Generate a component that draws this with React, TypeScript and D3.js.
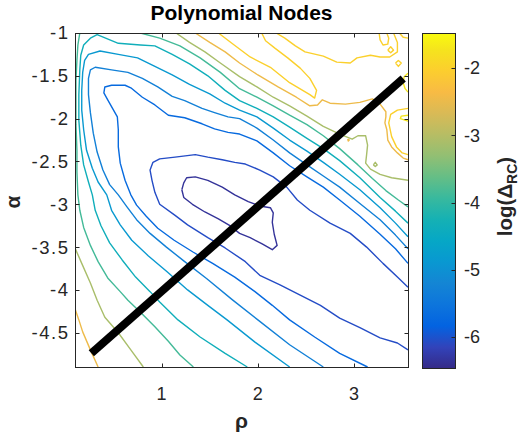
import { useEffect, useRef } from "react";
import * as d3 from "d3";

type Pt = [number, number];

const RHO_RANGE: Pt = [0.1, 3.56];
const ALPHA_RANGE: Pt = [-4.9, -1];
const LOG_RANGE: Pt = [-6.46, -1.48];

const RHO_TICKS = [1, 2, 3];
const ALPHA_TICKS = [-4.5, -4, -3.5, -3, -2.5, -2, -1.5, -1];
const LOG_TICKS = [-6, -5, -4, -3, -2];

// parula colormap (style only)
const PARULA = [
  "#352a87", "#3243ba", "#0363e1", "#0d75dc", "#1485d4", "#0998d1",
  "#06a7c6", "#15b1b4", "#38b99e", "#65be86", "#92bf73", "#b7bd64",
  "#d9ba56", "#f8bb44", "#fcce2e", "#f5e41d", "#f9fb0e",
];
const PARULA_POS = [0, 4, 8, 12, 16, 20, 24, 28, 32, 36, 40, 44, 48, 52, 56, 60, 63].map((i) => i / 63);

// contour levels, log(Delta_RC)
const LEVELS = [-6.35, -6.05, -5.7, -5.3, -4.85, -4.35, -3.85, -3.1, -2.45, -2.0, -1.7];

// contour lines, [rho, alpha]
const C1: Pt[][] = [
  [[1.21,-2.83],[1.23,-2.75],[1.26,-2.69],[1.35,-2.68],[1.48,-2.72],[1.63,-2.80],[1.76,-2.89],[1.90,-2.97],[2.02,-3.02],[2.13,-3.04],[2.16,-3.10],[2.15,-3.21],[2.17,-3.35],[2.20,-3.48],[2.15,-3.53],[2.04,-3.46],[1.92,-3.39],[1.81,-3.34],[1.71,-3.25],[1.59,-3.17],[1.45,-3.09],[1.32,-3.00],[1.23,-2.92],[1.21,-2.83]],
];
const C2: Pt[][] = [
  [[3.56,-3.97],[3.45,-3.85],[3.30,-3.69],[3.13,-3.50],[2.96,-3.34],[2.75,-3.22],[2.54,-3.07],[2.41,-2.95],[2.30,-2.80],[2.16,-2.68],[2.02,-2.60],[1.87,-2.53],[1.76,-2.51],[1.63,-2.48],[1.48,-2.45],[1.35,-2.42],[1.14,-2.45],[0.98,-2.47],[0.91,-2.51],[0.88,-2.60],[0.90,-2.72],[0.93,-2.86],[0.98,-3.00],[1.14,-3.13],[1.27,-3.24],[1.48,-3.39],[1.66,-3.51],[1.87,-3.67],[2.02,-3.83],[2.23,-3.94],[2.44,-4.06],[2.65,-4.18],[2.85,-4.33],[3.06,-4.44],[3.27,-4.56],[3.45,-4.62],[3.56,-4.70]],
];
const C3: Pt[][] = [
  [[3.14,-4.9],[2.85,-4.74],[2.59,-4.55],[2.33,-4.35],[2.15,-4.18],[1.97,-4.02],[1.76,-3.85],[1.53,-3.69],[1.33,-3.56],[1.13,-3.42],[0.96,-3.28],[0.84,-3.14],[0.74,-3.01],[0.68,-2.89],[0.62,-2.72],[0.57,-2.52],[0.55,-2.33],[0.55,-2.13],[0.54,-1.98],[0.44,-1.78],[0.40,-1.70],[0.41,-1.63],[0.48,-1.61],[0.62,-1.61],[0.68,-1.64],[0.80,-1.75],[0.93,-1.84],[1.07,-1.96],[1.24,-1.99],[1.42,-2.06],[1.55,-2.12],[1.69,-2.16],[1.81,-2.18],[1.99,-2.26],[2.16,-2.40],[2.33,-2.55],[2.51,-2.68],[2.68,-2.80],[2.85,-2.95],[3.06,-3.14],[3.27,-3.35],[3.43,-3.52],[3.56,-3.69]],
];
const C4: Pt[][] = [
  [[2.68,-4.9],[2.33,-4.64],[2.00,-4.35],[1.73,-4.11],[1.47,-3.87],[1.24,-3.67],[1.05,-3.50],[0.88,-3.34],[0.74,-3.18],[0.64,-3.03],[0.55,-2.89],[0.46,-2.77],[0.39,-2.60],[0.33,-2.39],[0.29,-2.17],[0.26,-1.93],[0.24,-1.72],[0.24,-1.53],[0.26,-1.43],[0.31,-1.40],[0.48,-1.43],[0.65,-1.46],[0.80,-1.53],[0.96,-1.63],[1.11,-1.74],[1.24,-1.79],[1.42,-1.88],[1.55,-1.93],[1.69,-1.98],[1.81,-2.00],[1.99,-2.11],[2.16,-2.25],[2.33,-2.40],[2.51,-2.54],[2.68,-2.67],[2.85,-2.80],[3.06,-2.99],[3.27,-3.18],[3.43,-3.36],[3.56,-3.52]],
];
const C5: Pt[][] = [
  [[2.33,-4.9],[1.97,-4.61],[1.68,-4.35],[1.48,-4.18],[1.27,-4.00],[1.06,-3.79],[0.86,-3.60],[0.69,-3.42],[0.57,-3.24],[0.48,-3.07],[0.43,-2.89],[0.34,-2.74],[0.28,-2.58],[0.22,-2.37],[0.19,-2.13],[0.17,-1.90],[0.17,-1.67],[0.18,-1.46],[0.20,-1.32],[0.24,-1.25],[0.36,-1.21],[0.55,-1.25],[0.75,-1.29],[0.93,-1.39],[1.11,-1.49],[1.29,-1.60],[1.50,-1.71],[1.66,-1.82],[1.81,-1.90],[1.99,-1.98],[2.16,-2.11],[2.33,-2.25],[2.51,-2.38],[2.68,-2.51],[2.85,-2.65],[3.06,-2.83],[3.27,-3.04],[3.43,-3.22],[3.56,-3.38]],
];
const C6: Pt[][] = [
  [[1.89,-4.9],[1.66,-4.74],[1.40,-4.55],[1.17,-4.35],[0.98,-4.14],[0.88,-4.02],[0.73,-3.85],[0.59,-3.65],[0.46,-3.45],[0.37,-3.25],[0.31,-3.07],[0.28,-2.89],[0.24,-2.74],[0.19,-2.54],[0.16,-2.31],[0.14,-2.02],[0.14,-1.72],[0.15,-1.43],[0.16,-1.26],[0.19,-1.14],[0.26,-1.06],[0.33,-1.02],[0.55,-1.12],[0.78,-1.14],[0.93,-1.15],[1.11,-1.25],[1.29,-1.36],[1.48,-1.50],[1.66,-1.67],[1.81,-1.79],[1.99,-1.88],[2.16,-1.98],[2.33,-2.10],[2.51,-2.23],[2.68,-2.35],[2.85,-2.49],[3.06,-2.69],[3.27,-2.92],[3.43,-3.08],[3.56,-3.22]],
];
const C7: Pt[][] = [
  [[0.15,-1.00],[0.13,-1.14],[0.12,-1.32],[0.11,-1.55],[0.11,-1.78],[0.11,-2.07],[0.12,-2.37],[0.12,-2.62],[0.13,-2.89],[0.15,-3.07],[0.19,-3.27],[0.26,-3.48],[0.34,-3.67],[0.44,-3.86],[0.57,-4.02],[0.65,-4.12],[0.78,-4.26],[0.93,-4.43],[1.07,-4.60],[1.19,-4.76],[1.33,-4.9]],
  [[0.78,-1.00],[0.98,-1.06],[1.19,-1.15],[1.40,-1.29],[1.61,-1.46],[1.81,-1.65],[1.99,-1.75],[2.16,-1.85],[2.33,-1.96],[2.51,-2.07],[2.68,-2.20],[2.85,-2.35],[3.04,-2.54],[3.19,-2.70],[3.33,-2.84],[3.46,-2.95],[3.56,-3.03]],
];
const C8: Pt[][] = [
  [[0.10,-3.51],[0.17,-3.69],[0.26,-3.92],[0.33,-4.12],[0.41,-4.32],[0.55,-4.50],[0.68,-4.70],[0.81,-4.9]],
  [[1.15,-1.00],[1.29,-1.11],[1.45,-1.22],[1.61,-1.35],[1.81,-1.51],[1.99,-1.63],[2.16,-1.75],[2.33,-1.85],[2.51,-1.97],[2.68,-2.09],[2.85,-2.18],[2.98,-2.24],[3.04,-2.20],[3.12,-2.20],[3.14,-2.31],[3.13,-2.42],[3.12,-2.52],[3.17,-2.59],[3.27,-2.65],[3.39,-2.69],[3.56,-2.72]],
  [[3.20,-2.54],[3.22,-2.51],[3.24,-2.54],[3.22,-2.56],[3.20,-2.54]],
];
const C9: Pt[][] = [
  [[0.10,-4.22],[0.14,-4.35],[0.18,-4.49],[0.26,-4.70],[0.34,-4.9]],
  [[1.35,-1.00],[1.50,-1.11],[1.66,-1.22],[1.81,-1.35],[2.00,-1.49],[2.21,-1.63],[2.40,-1.75],[2.54,-1.85],[2.62,-1.84],[2.67,-1.78],[2.75,-1.82],[2.91,-1.83],[3.06,-1.81],[3.19,-1.77],[3.27,-1.83],[3.33,-1.92],[3.33,-1.98],[3.32,-2.05],[3.34,-2.13],[3.35,-2.25],[3.39,-2.33],[3.45,-2.40],[3.51,-2.46],[3.56,-2.48]],
  [[2.93,-2.25],[2.94,-2.24],[2.95,-2.25],[2.94,-2.26],[2.93,-2.25]],
];
const C10: Pt[][] = [
  [[1.59,-1.00],[1.73,-1.12],[1.92,-1.28],[2.13,-1.40],[2.33,-1.58],[2.54,-1.72],[2.59,-1.76],[2.61,-1.67],[2.54,-1.53],[2.44,-1.41],[2.31,-1.29],[2.18,-1.18],[2.08,-1.09],[2.04,-1.00]],
  [[2.19,-1.00],[2.28,-1.06],[2.39,-1.15],[2.49,-1.22],[2.68,-1.27],[2.82,-1.34],[2.96,-1.35],[3.03,-1.29],[3.17,-1.26],[3.27,-1.28],[3.37,-1.28],[3.45,-1.22],[3.45,-1.11],[3.41,-1.00]],
  [[3.56,-1.88],[3.45,-1.90],[3.38,-1.95],[3.36,-2.05],[3.39,-2.21],[3.44,-2.33],[3.50,-2.40],[3.56,-2.42]],
  [[3.26,-1.00],[3.27,-1.08],[3.30,-1.14],[3.35,-1.13],[3.36,-1.06],[3.34,-1.00]],
  [[3.35,-1.20],[3.38,-1.16],[3.41,-1.20],[3.38,-1.23],[3.35,-1.20]],
  [[3.43,-1.35],[3.46,-1.32],[3.49,-1.35],[3.46,-1.39],[3.43,-1.35]],
  [[3.47,-1.00],[3.51,-1.05],[3.56,-1.06]],
];
const C11: Pt[][] = [
  [[3.56,-1.47],[3.52,-1.51],[3.51,-1.58],[3.53,-1.65],[3.56,-1.69]],
  [[3.56,-1.96],[3.49,-1.97],[3.48,-2.00],[3.56,-2.03]],
];

// the thick straight path
const PATH_RHO = [0.27, 3.51];
const PATH_ALPHA = [-4.74, -1.53];

const CONTOURS = [C1, C2, C3, C4, C5, C6, C7, C8, C9, C10, C11].map((pieces, i) => ({
  level: LEVELS[i],
  pieces,
}));

export default function App() {
  const svgRef = useRef<SVGSVGElement>(null);

  useEffect(() => {
    const width = 522;
    const height = 442;
    const plot = { left: 75, right: 408, top: 33, bottom: 367 };
    const bar = { left: 422, right: 455, top: 33, bottom: 368 };
    const ink = "#262626";
    const font = "'Liberation Sans', Arial, Helvetica, sans-serif";

    const svg = d3.select(svgRef.current);
    svg.selectAll("*").remove();
    svg.attr("width", width).attr("height", height).style("background", "#fff");

    const x = d3.scaleLinear().domain(RHO_RANGE).range([plot.left, plot.right]);
    const y = d3.scaleLinear().domain(ALPHA_RANGE).range([plot.bottom, plot.top]);
    const c = d3.scaleLinear().domain(LOG_RANGE).range([bar.bottom, bar.top]);
    const parula = d3
      .scaleLinear<string>()
      .domain(PARULA_POS.map((p) => LOG_RANGE[0] + p * (LOG_RANGE[1] - LOG_RANGE[0])))
      .range(PARULA)
      .interpolate(d3.interpolateRgb)
      .clamp(true);

    const defs = svg.append("defs");
    defs
      .append("clipPath")
      .attr("id", "plot-clip")
      .append("rect")
      .attr("x", plot.left)
      .attr("y", plot.top)
      .attr("width", plot.right - plot.left + 1)
      .attr("height", plot.bottom - plot.top + 1);

    const grad = defs
      .append("linearGradient")
      .attr("id", "parula")
      .attr("x1", 0)
      .attr("y1", 1)
      .attr("x2", 0)
      .attr("y2", 0);
    PARULA.forEach((col, i) => {
      grad.append("stop").attr("offset", PARULA_POS[i]).attr("stop-color", col);
    });

    // contour lines
    const line = d3
      .line<Pt>()
      .x((d) => x(d[0]))
      .y((d) => y(d[1]));

    const g = svg.append("g").attr("clip-path", "url(#plot-clip)");
    CONTOURS.forEach(({ level, pieces }) => {
      g.selectAll(null)
        .data(pieces)
        .join("path")
        .attr("d", (d) => line(d))
        .attr("fill", "none")
        .attr("stroke", parula(level))
        .attr("stroke-width", 1.4)
        .attr("stroke-linejoin", "round");
    });

    g.append("line")
      .attr("x1", x(PATH_RHO[0]))
      .attr("y1", y(PATH_ALPHA[0]))
      .attr("x2", x(PATH_RHO[1]))
      .attr("y2", y(PATH_ALPHA[1]))
      .attr("stroke", "#000")
      .attr("stroke-width", 8);

    // axes box
    svg
      .append("rect")
      .attr("x", plot.left + 0.5)
      .attr("y", plot.top + 0.5)
      .attr("width", plot.right - plot.left)
      .attr("height", plot.bottom - plot.top)
      .attr("fill", "none")
      .attr("stroke", ink)
      .attr("stroke-width", 1);

    const tickLen = 4;
    RHO_TICKS.forEach((t) => {
      const px = Math.round(x(t)) + 0.5;
      svg.append("line").attr("x1", px).attr("x2", px).attr("y1", plot.bottom + 0.5).attr("y2", plot.bottom + 0.5 - tickLen).attr("stroke", ink);
      svg.append("line").attr("x1", px).attr("x2", px).attr("y1", plot.top + 0.5).attr("y2", plot.top + 0.5 + tickLen).attr("stroke", ink);
      svg
        .append("text")
        .attr("x", x(t))
        .attr("y", 400)
        .attr("text-anchor", "middle")
        .attr("font-family", font)
        .attr("font-size", 18)
        .attr("fill", ink)
        .text(String(t));
    });

    ALPHA_TICKS.forEach((t) => {
      const py = Math.round(y(t)) + 0.5;
      svg.append("line").attr("x1", plot.left + 0.5).attr("x2", plot.left + 0.5 + tickLen).attr("y1", py).attr("y2", py).attr("stroke", ink);
      svg.append("line").attr("x1", plot.right + 0.5).attr("x2", plot.right + 0.5 - tickLen).attr("y1", py).attr("y2", py).attr("stroke", ink);
      svg
        .append("text")
        .attr("x", 69.5)
        .attr("y", y(t))
        .attr("dy", "0.35em")
        .attr("text-anchor", "end")
        .attr("font-family", font)
        .attr("font-size", 18.5)
        .attr("letter-spacing", 1.5)
        .attr("fill", ink)
        .text(String(t));
    });

    // colorbar
    svg
      .append("rect")
      .attr("x", bar.left + 0.5)
      .attr("y", bar.top + 0.5)
      .attr("width", bar.right - bar.left)
      .attr("height", bar.bottom - bar.top)
      .attr("fill", "url(#parula)")
      .attr("stroke", ink)
      .attr("stroke-width", 1);

    LOG_TICKS.forEach((t) => {
      const py = Math.round(c(t)) + 0.5;
      svg.append("line").attr("x1", bar.right + 0.5).attr("x2", bar.right + 0.5 - tickLen).attr("y1", py).attr("y2", py).attr("stroke", ink);
      svg
        .append("text")
        .attr("x", 464)
        .attr("y", c(t))
        .attr("dy", "0.35em")
        .attr("font-family", font)
        .attr("font-size", 18)
        .attr("fill", ink)
        .text(String(t));
    });

    // labels
    svg
      .append("text")
      .attr("x", (plot.left + plot.right) / 2)
      .attr("y", 20)
      .attr("text-anchor", "middle")
      .attr("font-family", font)
      .attr("font-weight", "bold")
      .attr("font-size", 21)
      .attr("fill", "#000")
      .text("Polynomial Nodes");

    svg
      .append("text")
      .attr("x", (plot.left + plot.right) / 2)
      .attr("y", 428)
      .attr("text-anchor", "middle")
      .attr("font-family", font)
      .attr("font-weight", "bold")
      .attr("font-size", 21)
      .attr("fill", ink)
      .text("ρ");

    svg
      .append("text")
      .attr("transform", `translate(20, ${(plot.top + plot.bottom) / 2 + 2}) rotate(-90)`)
      .attr("text-anchor", "middle")
      .attr("font-family", font)
      .attr("font-weight", "bold")
      .attr("font-size", 21)
      .attr("fill", ink)
      .text("α");

    const cl = svg
      .append("text")
      .attr("transform", `translate(512, ${(bar.top + bar.bottom) / 2 - 4}) rotate(-90)`)
      .attr("text-anchor", "middle")
      .attr("font-family", font)
      .attr("font-weight", "bold")
      .attr("font-size", 20.5)
      .attr("fill", ink);
    cl.append("tspan").text("log(Δ");
    cl.append("tspan").attr("font-size", 14).attr("dy", 5).text("RC");
    cl.append("tspan").attr("dy", -5).text(")");
  }, []);

  return <svg ref={svgRef} style={{ position: "absolute", left: 0, top: 0, display: "block" }} />;
}
